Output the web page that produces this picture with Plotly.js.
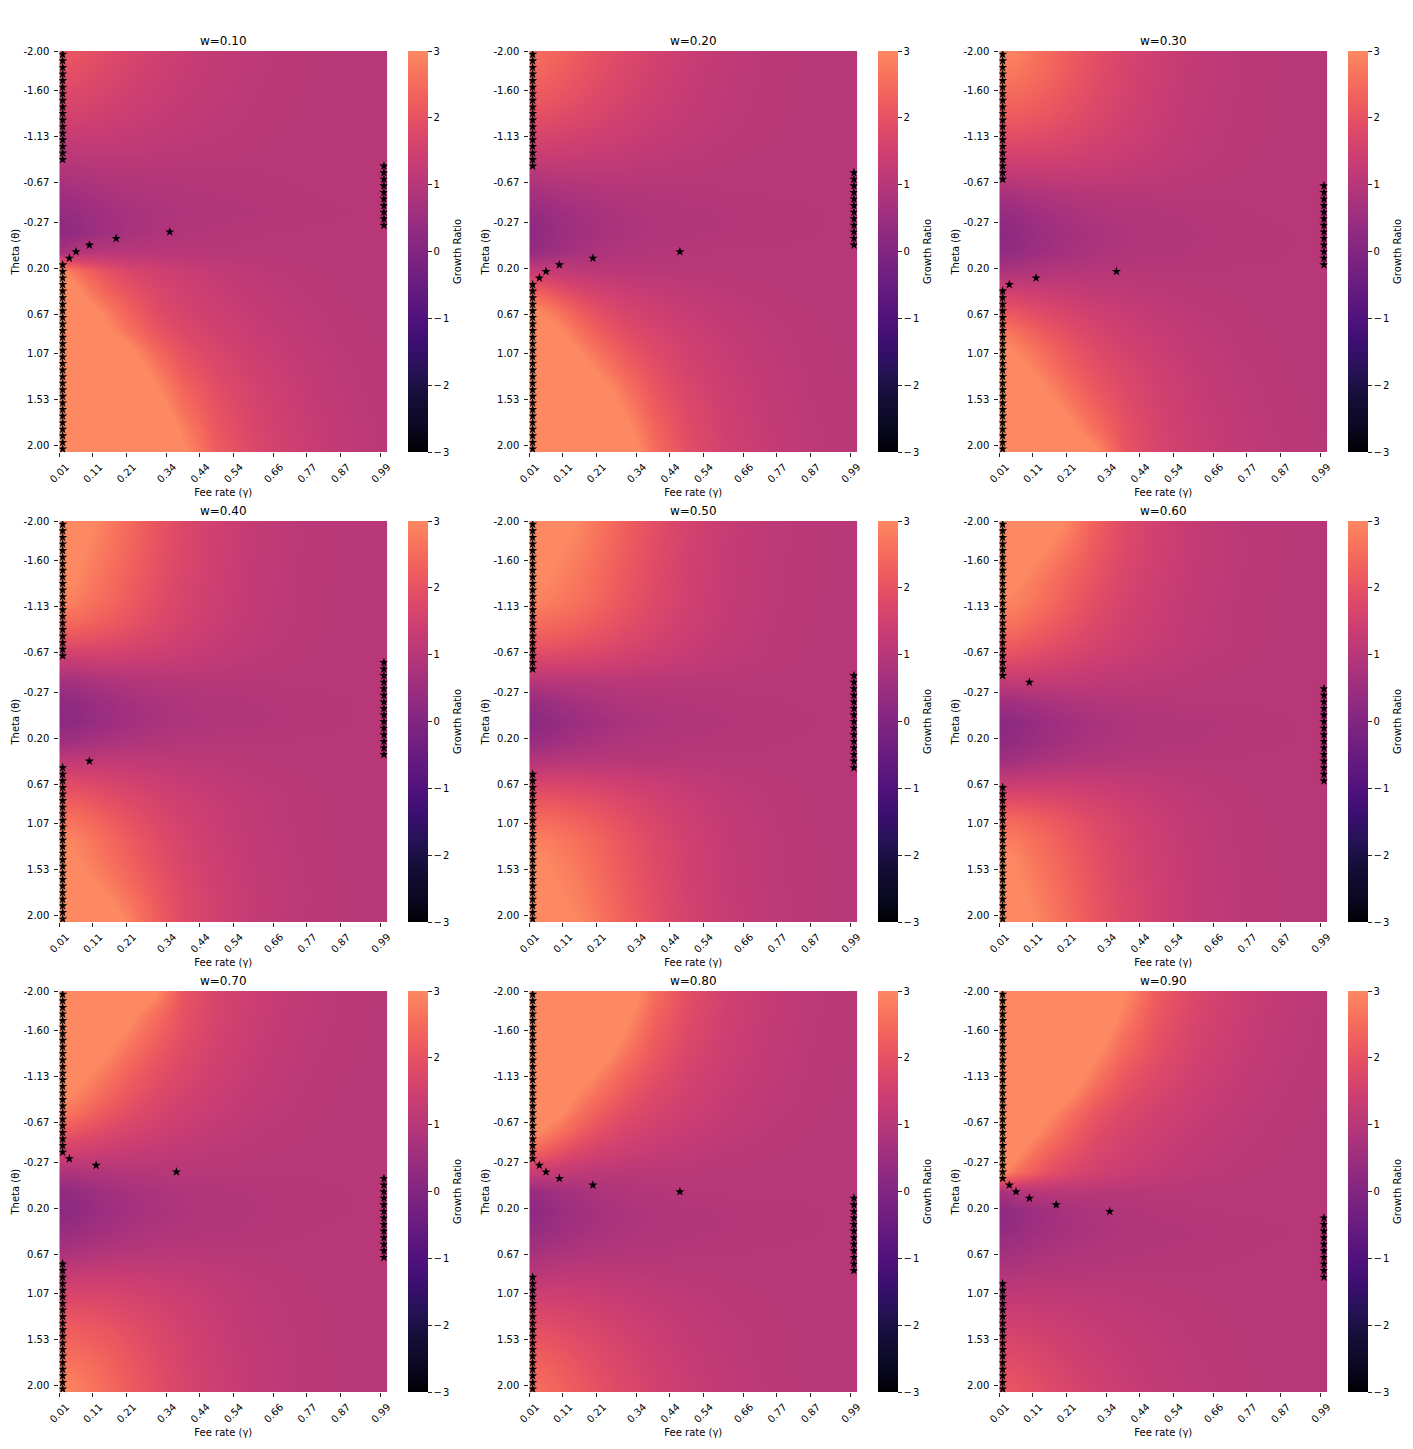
<!DOCTYPE html>
<html><head><meta charset="utf-8">
<script src="https://cdn.plot.ly/plotly-3.0.1.min.js"></script>
<style>html,body{margin:0;padding:0;background:#fff}#chart{width:1413px;height:1449px}</style>
</head><body><div id="chart"></div>
<script>
// ---------- axes / categories ----------
const nGamma = 49, nTheta = 61;
const gammaTickIdx = [0,5,10,16,21,26,32,37,42,48];
const gammaTickLabels = ["0.01","0.11","0.21","0.34","0.44","0.54","0.66","0.77","0.87","0.99"];
const thetaTickIdx = [0,6,13,20,26,33,40,46,53,60];
const thetaTickLabels = ["-2.00","-1.60","-1.13","-0.67","-0.27","0.20","0.67","1.07","1.53","2.00"];
const cbarTickVals = [-3,-2,-1,0,1,2,3];
const cbarTickLabels = ["\u2212\u200a3","\u2212\u200a2","\u2212\u200a1","0","1","2","3"];
// sampled grid (cell indices) at which growth-ratio values were read
const gammaSampleIdx = [0,2,4,7,10,14,18,23,29,36,42,48];
const thetaSampleIdx = [0,3,6,9,12,15,18,21,24,27,30,33,36,39,42,45,48,51,54,57,60];
const wLabels = ["w=0.10","w=0.20","w=0.30","w=0.40","w=0.50","w=0.60","w=0.70","w=0.80","w=0.90"];

// ---------- growth ratio values (rows = theta samples, cols = gamma samples) ----------
const growth_w010 = [
[2.1,2.05,1.95,1.8,1.65,1.5,1.35,1.22,1.12,1.05,1.02,1.0],
[1.95,1.9,1.82,1.7,1.57,1.43,1.3,1.2,1.1,1.04,1.01,1.0],
[1.78,1.74,1.68,1.58,1.48,1.36,1.26,1.17,1.09,1.03,1.01,1.0],
[1.58,1.56,1.52,1.45,1.38,1.29,1.21,1.14,1.07,1.03,1.01,1.0],
[1.35,1.35,1.33,1.3,1.26,1.2,1.15,1.1,1.05,1.02,1.0,1.0],
[1.1,1.12,1.13,1.13,1.12,1.1,1.08,1.06,1.03,1.01,1.0,1.0],
[0.85,0.88,0.92,0.95,0.97,0.98,0.99,0.99,0.99,1.0,1.0,1.0],
[0.6,0.65,0.72,0.79,0.85,0.9,0.93,0.96,0.98,0.99,1.0,1.0],
[0.35,0.43,0.53,0.64,0.73,0.81,0.87,0.92,0.95,0.98,0.99,1.0],
[0.25,0.35,0.48,0.62,0.73,0.84,0.92,0.97,0.99,1.0,1.0,1.0],
[0.7,0.95,1.0,1.02,1.03,1.03,1.02,1.01,1.0,1.0,1.0,1.0],
[3.0,2.6,2.3,1.95,1.72,1.5,1.36,1.24,1.13,1.05,1.02,1.0],
[3.5,3.15,2.75,2.3,2.0,1.7,1.5,1.33,1.19,1.08,1.03,1.0],
[3.9,3.6,3.2,2.75,2.3,1.85,1.6,1.42,1.25,1.12,1.05,1.01],
[4.3,4.0,3.6,3.05,2.6,2.05,1.75,1.52,1.31,1.15,1.07,1.02],
[5.0,4.8,4.4,3.8,3.1,2.4,1.95,1.65,1.4,1.2,1.09,1.03],
[5.0,5.0,4.8,4.2,3.5,2.75,2.15,1.78,1.47,1.24,1.11,1.04],
[5.0,5.0,5.0,4.6,3.9,3.05,2.4,1.9,1.55,1.28,1.13,1.05],
[5.0,5.0,5.0,5.0,4.3,3.35,2.6,2.0,1.6,1.32,1.15,1.06],
[5.0,5.0,5.0,5.0,4.7,3.7,2.85,2.1,1.65,1.35,1.17,1.07],
[5.0,5.0,5.0,5.0,5.0,4.0,3.05,2.2,1.7,1.38,1.18,1.08]];
const growth_w020 = [
[2.55,2.45,2.35,2.15,1.95,1.75,1.55,1.35,1.18,1.07,1.02,1.0],
[2.4,2.32,2.22,2.05,1.88,1.68,1.5,1.32,1.16,1.06,1.02,1.0],
[2.2,2.14,2.06,1.92,1.78,1.6,1.44,1.28,1.14,1.05,1.02,1.0],
[1.95,1.92,1.86,1.76,1.65,1.5,1.37,1.24,1.12,1.05,1.01,1.0],
[1.68,1.66,1.63,1.56,1.48,1.38,1.28,1.18,1.1,1.04,1.01,1.0],
[1.38,1.38,1.37,1.34,1.3,1.24,1.18,1.12,1.06,1.02,1.0,1.0],
[1.02,1.05,1.08,1.09,1.1,1.08,1.06,1.04,1.02,1.01,1.0,1.0],
[0.68,0.73,0.79,0.85,0.9,0.94,0.96,0.98,0.99,1.0,1.0,1.0],
[0.38,0.46,0.56,0.66,0.75,0.83,0.89,0.93,0.96,0.98,0.99,1.0],
[0.25,0.35,0.47,0.6,0.71,0.81,0.88,0.93,0.96,0.98,0.99,1.0],
[0.4,0.5,0.6,0.72,0.82,0.9,0.95,0.99,1.01,1.0,1.0,1.0],
[1.3,1.3,1.25,1.15,1.1,1.06,1.05,1.04,1.02,1.01,1.0,1.0],
[2.3,2.15,1.95,1.7,1.52,1.37,1.27,1.18,1.1,1.04,1.01,1.0],
[3.05,2.85,2.6,2.2,1.9,1.62,1.45,1.3,1.18,1.08,1.03,1.0],
[3.5,3.3,3.05,2.6,2.2,1.85,1.63,1.42,1.25,1.11,1.05,1.01],
[4.0,3.8,3.45,2.95,2.55,2.1,1.78,1.52,1.3,1.14,1.06,1.02],
[4.4,4.2,3.9,3.35,2.9,2.35,1.95,1.6,1.35,1.17,1.07,1.02],
[5.0,4.8,4.4,3.8,3.3,2.65,2.1,1.7,1.4,1.19,1.08,1.03],
[5.0,5.0,4.8,4.2,3.6,2.9,2.25,1.78,1.44,1.21,1.09,1.03],
[5.0,5.0,5.0,4.6,3.9,3.15,2.4,1.85,1.48,1.23,1.1,1.04],
[5.0,5.0,5.0,5.0,4.3,3.4,2.55,1.92,1.5,1.25,1.11,1.04]];
const growth_w030 = [
[2.95,2.85,2.7,2.45,2.2,1.9,1.65,1.42,1.2,1.08,1.03,1.0],
[2.75,2.68,2.57,2.36,2.14,1.86,1.62,1.4,1.19,1.08,1.03,1.0],
[2.5,2.45,2.37,2.22,2.04,1.8,1.58,1.37,1.18,1.07,1.02,1.0],
[2.25,2.22,2.17,2.06,1.92,1.72,1.53,1.34,1.16,1.07,1.02,1.0],
[1.95,1.94,1.91,1.84,1.74,1.6,1.45,1.3,1.14,1.06,1.02,1.0],
[1.6,1.61,1.61,1.58,1.53,1.45,1.35,1.24,1.12,1.05,1.01,1.0],
[1.2,1.23,1.26,1.28,1.28,1.25,1.21,1.15,1.08,1.03,1.01,1.0],
[0.75,0.8,0.87,0.93,0.98,1.02,1.03,1.02,1.01,1.0,1.0,1.0],
[0.4,0.47,0.57,0.68,0.77,0.85,0.9,0.94,0.97,0.99,1.0,1.0],
[0.2,0.28,0.4,0.54,0.66,0.77,0.85,0.91,0.95,0.98,0.99,1.0],
[0.3,0.37,0.48,0.6,0.7,0.8,0.87,0.92,0.96,0.98,0.99,1.0],
[0.8,0.84,0.88,0.92,0.96,1.0,1.02,1.01,1.0,1.0,1.0,1.0],
[1.5,1.47,1.42,1.35,1.28,1.2,1.15,1.1,1.05,1.02,1.0,1.0],
[2.1,2.02,1.9,1.74,1.6,1.44,1.32,1.2,1.1,1.04,1.01,1.0],
[2.7,2.55,2.35,2.08,1.86,1.62,1.45,1.3,1.16,1.06,1.02,1.0],
[3.1,2.95,2.72,2.4,2.1,1.8,1.57,1.38,1.2,1.08,1.03,1.0],
[3.5,3.3,3.0,2.65,2.3,1.95,1.7,1.46,1.25,1.1,1.04,1.01],
[3.9,3.7,3.35,2.95,2.55,2.12,1.8,1.52,1.29,1.12,1.05,1.01],
[4.4,4.2,3.8,3.25,2.85,2.32,1.9,1.58,1.32,1.14,1.06,1.02],
[4.8,4.6,4.2,3.6,3.15,2.55,1.98,1.62,1.35,1.16,1.07,1.02],
[5.0,5.0,4.7,4.1,3.6,3.0,2.05,1.65,1.38,1.18,1.08,1.03]];
const growth_w040 = [
[3.6,3.4,3.05,2.75,2.45,2.05,1.75,1.48,1.22,1.08,1.03,1.0],
[3.4,3.2,2.95,2.68,2.4,2.02,1.73,1.47,1.22,1.08,1.03,1.0],
[3.2,3.05,2.85,2.6,2.34,1.98,1.7,1.45,1.21,1.08,1.03,1.0],
[3.05,2.95,2.75,2.5,2.26,1.93,1.66,1.43,1.2,1.07,1.02,1.0],
[2.85,2.78,2.62,2.4,2.17,1.87,1.62,1.4,1.19,1.07,1.02,1.0],
[2.45,2.42,2.33,2.18,2.0,1.76,1.56,1.36,1.17,1.06,1.02,1.0],
[1.9,1.9,1.86,1.79,1.7,1.56,1.43,1.28,1.14,1.05,1.01,1.0],
[1.25,1.28,1.31,1.33,1.33,1.29,1.24,1.16,1.08,1.03,1.0,1.0],
[0.6,0.66,0.74,0.83,0.9,0.96,0.99,1.0,1.0,1.0,1.0,1.0],
[0.25,0.32,0.43,0.56,0.67,0.78,0.85,0.91,0.95,0.98,0.99,1.0],
[0.2,0.27,0.38,0.51,0.63,0.75,0.83,0.9,0.94,0.97,0.99,1.0],
[0.55,0.6,0.67,0.76,0.84,0.91,0.96,0.99,1.0,1.0,1.0,1.0],
[1.2,1.22,1.23,1.22,1.2,1.16,1.12,1.08,1.04,1.01,1.0,1.0],
[1.8,1.78,1.72,1.62,1.52,1.4,1.3,1.2,1.1,1.04,1.01,1.0],
[2.25,2.2,2.1,1.95,1.8,1.6,1.45,1.3,1.16,1.06,1.02,1.0],
[2.65,2.58,2.45,2.22,2.0,1.74,1.52,1.34,1.17,1.06,1.02,1.0],
[2.95,2.87,2.72,2.45,2.18,1.86,1.6,1.38,1.19,1.07,1.02,1.0],
[3.15,3.0,2.85,2.58,2.3,1.95,1.66,1.42,1.21,1.08,1.03,1.0],
[3.5,3.35,3.02,2.75,2.45,2.05,1.72,1.46,1.23,1.09,1.03,1.01],
[3.9,3.7,3.4,3.0,2.65,2.15,1.78,1.5,1.25,1.1,1.04,1.01],
[4.3,4.1,3.7,3.3,2.85,2.25,1.8,1.5,1.23,1.08,1.03,1.01]];
const growth_w050 = [
[3.5,3.3,3.15,2.95,2.65,2.25,1.92,1.58,1.3,1.12,1.05,1.01],
[3.3,3.2,3.05,2.85,2.58,2.2,1.89,1.56,1.29,1.12,1.04,1.01],
[3.15,3.08,2.95,2.76,2.5,2.15,1.85,1.54,1.28,1.11,1.04,1.01],
[3.02,2.97,2.85,2.67,2.43,2.1,1.82,1.52,1.27,1.11,1.04,1.01],
[2.85,2.82,2.72,2.56,2.35,2.04,1.78,1.5,1.26,1.1,1.04,1.0],
[2.5,2.48,2.42,2.3,2.14,1.9,1.68,1.44,1.23,1.09,1.03,1.0],
[2.1,2.1,2.06,1.98,1.87,1.7,1.54,1.36,1.19,1.08,1.03,1.0],
[1.6,1.61,1.6,1.57,1.52,1.43,1.34,1.24,1.13,1.06,1.02,1.0],
[0.95,0.98,1.0,1.02,1.03,1.03,1.03,1.02,1.01,1.0,1.0,1.0],
[0.42,0.48,0.58,0.7,0.79,0.87,0.92,0.96,0.98,0.99,1.0,1.0],
[0.18,0.25,0.36,0.5,0.62,0.74,0.83,0.9,0.95,0.98,0.99,1.0],
[0.42,0.48,0.58,0.7,0.79,0.87,0.92,0.96,0.98,0.99,1.0,1.0],
[0.95,0.98,1.0,1.02,1.03,1.03,1.03,1.02,1.01,1.0,1.0,1.0],
[1.6,1.61,1.6,1.57,1.52,1.43,1.34,1.24,1.13,1.06,1.02,1.0],
[2.1,2.1,2.06,1.98,1.87,1.7,1.54,1.36,1.19,1.08,1.03,1.0],
[2.5,2.48,2.42,2.3,2.14,1.9,1.68,1.44,1.23,1.09,1.03,1.0],
[2.85,2.82,2.72,2.56,2.35,2.04,1.78,1.5,1.26,1.1,1.04,1.0],
[3.02,2.97,2.85,2.67,2.43,2.1,1.82,1.52,1.27,1.11,1.04,1.01],
[3.15,3.08,2.95,2.76,2.5,2.15,1.85,1.54,1.28,1.11,1.04,1.01],
[3.3,3.2,3.05,2.85,2.58,2.2,1.89,1.56,1.29,1.12,1.04,1.01],
[3.5,3.3,3.15,2.95,2.65,2.25,1.92,1.58,1.3,1.12,1.05,1.01]];
const growth_w060 = [
[4.3,4.1,3.7,3.3,2.85,2.25,1.8,1.5,1.23,1.08,1.03,1.01],
[3.9,3.7,3.4,3.0,2.65,2.15,1.78,1.5,1.25,1.1,1.04,1.01],
[3.5,3.35,3.02,2.75,2.45,2.05,1.72,1.46,1.23,1.09,1.03,1.01],
[3.15,3.0,2.85,2.58,2.3,1.95,1.66,1.42,1.21,1.08,1.03,1.0],
[2.95,2.87,2.72,2.45,2.18,1.86,1.6,1.38,1.19,1.07,1.02,1.0],
[2.65,2.58,2.45,2.22,2.0,1.74,1.52,1.34,1.17,1.06,1.02,1.0],
[2.25,2.2,2.1,1.95,1.8,1.6,1.45,1.3,1.16,1.06,1.02,1.0],
[1.8,1.78,1.72,1.62,1.52,1.4,1.3,1.2,1.1,1.04,1.01,1.0],
[1.2,1.22,1.23,1.22,1.2,1.16,1.12,1.08,1.04,1.01,1.0,1.0],
[0.55,0.6,0.67,0.76,0.84,0.91,0.96,0.99,1.0,1.0,1.0,1.0],
[0.2,0.27,0.38,0.51,0.63,0.75,0.83,0.9,0.94,0.97,0.99,1.0],
[0.25,0.32,0.43,0.56,0.67,0.78,0.85,0.91,0.95,0.98,0.99,1.0],
[0.6,0.66,0.74,0.83,0.9,0.96,0.99,1.0,1.0,1.0,1.0,1.0],
[1.25,1.28,1.31,1.33,1.33,1.29,1.24,1.16,1.08,1.03,1.0,1.0],
[1.9,1.9,1.86,1.79,1.7,1.56,1.43,1.28,1.14,1.05,1.01,1.0],
[2.45,2.42,2.33,2.18,2.0,1.76,1.56,1.36,1.17,1.06,1.02,1.0],
[2.85,2.78,2.62,2.4,2.17,1.87,1.62,1.4,1.19,1.07,1.02,1.0],
[3.05,2.95,2.75,2.5,2.26,1.93,1.66,1.43,1.2,1.07,1.02,1.0],
[3.2,3.05,2.85,2.6,2.34,1.98,1.7,1.45,1.21,1.08,1.03,1.0],
[3.4,3.2,2.95,2.68,2.4,2.02,1.73,1.47,1.22,1.08,1.03,1.0],
[3.6,3.4,3.05,2.75,2.45,2.05,1.75,1.48,1.22,1.08,1.03,1.0]];
const growth_w070 = [
[5.0,5.0,4.7,4.1,3.6,3.0,2.05,1.65,1.38,1.18,1.08,1.03],
[4.8,4.6,4.2,3.6,3.15,2.55,1.98,1.62,1.35,1.16,1.07,1.02],
[4.4,4.2,3.8,3.25,2.85,2.32,1.9,1.58,1.32,1.14,1.06,1.02],
[3.9,3.7,3.35,2.95,2.55,2.12,1.8,1.52,1.29,1.12,1.05,1.01],
[3.5,3.3,3.0,2.65,2.3,1.95,1.7,1.46,1.25,1.1,1.04,1.01],
[3.1,2.95,2.72,2.4,2.1,1.8,1.57,1.38,1.2,1.08,1.03,1.0],
[2.7,2.55,2.35,2.08,1.86,1.62,1.45,1.3,1.16,1.06,1.02,1.0],
[2.1,2.02,1.9,1.74,1.6,1.44,1.32,1.2,1.1,1.04,1.01,1.0],
[1.5,1.47,1.42,1.35,1.28,1.2,1.15,1.1,1.05,1.02,1.0,1.0],
[0.8,0.84,0.88,0.92,0.96,1.0,1.02,1.01,1.0,1.0,1.0,1.0],
[0.3,0.37,0.48,0.6,0.7,0.8,0.87,0.92,0.96,0.98,0.99,1.0],
[0.2,0.28,0.4,0.54,0.66,0.77,0.85,0.91,0.95,0.98,0.99,1.0],
[0.4,0.47,0.57,0.68,0.77,0.85,0.9,0.94,0.97,0.99,1.0,1.0],
[0.75,0.8,0.87,0.93,0.98,1.02,1.03,1.02,1.01,1.0,1.0,1.0],
[1.2,1.23,1.26,1.28,1.28,1.25,1.21,1.15,1.08,1.03,1.01,1.0],
[1.6,1.61,1.61,1.58,1.53,1.45,1.35,1.24,1.12,1.05,1.01,1.0],
[1.95,1.94,1.91,1.84,1.74,1.6,1.45,1.3,1.14,1.06,1.02,1.0],
[2.25,2.22,2.17,2.06,1.92,1.72,1.53,1.34,1.16,1.07,1.02,1.0],
[2.5,2.45,2.37,2.22,2.04,1.8,1.58,1.37,1.18,1.07,1.02,1.0],
[2.75,2.68,2.57,2.36,2.14,1.86,1.62,1.4,1.19,1.08,1.03,1.0],
[2.95,2.85,2.7,2.45,2.2,1.9,1.65,1.42,1.2,1.08,1.03,1.0]];
const growth_w080 = [
[5.0,5.0,5.0,5.0,4.3,3.4,2.55,1.92,1.5,1.25,1.11,1.04],
[5.0,5.0,5.0,4.6,3.9,3.15,2.4,1.85,1.48,1.23,1.1,1.04],
[5.0,5.0,4.8,4.2,3.6,2.9,2.25,1.78,1.44,1.21,1.09,1.03],
[5.0,4.8,4.4,3.8,3.3,2.65,2.1,1.7,1.4,1.19,1.08,1.03],
[4.4,4.2,3.9,3.35,2.9,2.35,1.95,1.6,1.35,1.17,1.07,1.02],
[4.0,3.8,3.45,2.95,2.55,2.1,1.78,1.52,1.3,1.14,1.06,1.02],
[3.5,3.3,3.05,2.6,2.2,1.85,1.63,1.42,1.25,1.11,1.05,1.01],
[3.05,2.85,2.6,2.2,1.9,1.62,1.45,1.3,1.18,1.08,1.03,1.0],
[2.3,2.15,1.95,1.7,1.52,1.37,1.27,1.18,1.1,1.04,1.01,1.0],
[1.3,1.3,1.25,1.15,1.1,1.06,1.05,1.04,1.02,1.01,1.0,1.0],
[0.4,0.5,0.6,0.72,0.82,0.9,0.95,0.99,1.01,1.0,1.0,1.0],
[0.25,0.35,0.47,0.6,0.71,0.81,0.88,0.93,0.96,0.98,0.99,1.0],
[0.38,0.46,0.56,0.66,0.75,0.83,0.89,0.93,0.96,0.98,0.99,1.0],
[0.68,0.73,0.79,0.85,0.9,0.94,0.96,0.98,0.99,1.0,1.0,1.0],
[1.02,1.05,1.08,1.09,1.1,1.08,1.06,1.04,1.02,1.01,1.0,1.0],
[1.38,1.38,1.37,1.34,1.3,1.24,1.18,1.12,1.06,1.02,1.0,1.0],
[1.68,1.66,1.63,1.56,1.48,1.38,1.28,1.18,1.1,1.04,1.01,1.0],
[1.95,1.92,1.86,1.76,1.65,1.5,1.37,1.24,1.12,1.05,1.01,1.0],
[2.2,2.14,2.06,1.92,1.78,1.6,1.44,1.28,1.14,1.05,1.02,1.0],
[2.4,2.32,2.22,2.05,1.88,1.68,1.5,1.32,1.16,1.06,1.02,1.0],
[2.55,2.45,2.35,2.15,1.95,1.75,1.55,1.35,1.18,1.07,1.02,1.0]];
const growth_w090 = [
[5.0,5.0,5.0,5.0,5.0,4.0,3.05,2.2,1.7,1.38,1.18,1.08],
[5.0,5.0,5.0,5.0,4.7,3.7,2.85,2.1,1.65,1.35,1.17,1.07],
[5.0,5.0,5.0,5.0,4.3,3.35,2.6,2.0,1.6,1.32,1.15,1.06],
[5.0,5.0,5.0,4.6,3.9,3.05,2.4,1.9,1.55,1.28,1.13,1.05],
[5.0,5.0,4.8,4.2,3.5,2.75,2.15,1.78,1.47,1.24,1.11,1.04],
[5.0,4.8,4.4,3.8,3.1,2.4,1.95,1.65,1.4,1.2,1.09,1.03],
[4.3,4.0,3.6,3.05,2.6,2.05,1.75,1.52,1.31,1.15,1.07,1.02],
[3.9,3.6,3.2,2.75,2.3,1.85,1.6,1.42,1.25,1.12,1.05,1.01],
[3.5,3.15,2.75,2.3,2.0,1.7,1.5,1.33,1.19,1.08,1.03,1.0],
[3.0,2.6,2.3,1.95,1.72,1.5,1.36,1.24,1.13,1.05,1.02,1.0],
[0.7,0.95,1.0,1.02,1.03,1.03,1.02,1.01,1.0,1.0,1.0,1.0],
[0.25,0.35,0.48,0.62,0.73,0.84,0.92,0.97,0.99,1.0,1.0,1.0],
[0.35,0.43,0.53,0.64,0.73,0.81,0.87,0.92,0.95,0.98,0.99,1.0],
[0.6,0.65,0.72,0.79,0.85,0.9,0.93,0.96,0.98,0.99,1.0,1.0],
[0.85,0.88,0.92,0.95,0.97,0.98,0.99,0.99,0.99,1.0,1.0,1.0],
[1.1,1.12,1.13,1.13,1.12,1.1,1.08,1.06,1.03,1.01,1.0,1.0],
[1.35,1.35,1.33,1.3,1.26,1.2,1.15,1.1,1.05,1.02,1.0,1.0],
[1.58,1.56,1.52,1.45,1.38,1.29,1.21,1.14,1.07,1.03,1.01,1.0],
[1.78,1.74,1.68,1.58,1.48,1.36,1.26,1.17,1.09,1.03,1.01,1.0],
[1.95,1.9,1.82,1.7,1.57,1.43,1.3,1.2,1.1,1.04,1.01,1.0],
[2.1,2.05,1.95,1.8,1.65,1.5,1.35,1.22,1.12,1.05,1.02,1.0]];

// ---------- starred gamma index (per theta row, 61 rows) ----------
const star_w010 = [0,0,0,0,0,0,0,0,0,0,0,0,0,0,0,0,0,48,48,48,48,48,48,48,48,48,48,16,8,4,2,1,0,0,0,0,0,0,0,0,0,0,0,0,0,0,0,0,0,0,0,0,0,0,0,0,0,0,0,0,0];
const star_w020 = [0,0,0,0,0,0,0,0,0,0,0,0,0,0,0,0,0,0,48,48,48,48,48,48,48,48,48,48,48,48,22,9,4,2,1,0,0,0,0,0,0,0,0,0,0,0,0,0,0,0,0,0,0,0,0,0,0,0,0,0,0];
const star_w030 = [0,0,0,0,0,0,0,0,0,0,0,0,0,0,0,0,0,0,0,0,48,48,48,48,48,48,48,48,48,48,48,48,48,17,5,1,0,0,0,0,0,0,0,0,0,0,0,0,0,0,0,0,0,0,0,0,0,0,0,0,0];
const star_w040 = [0,0,0,0,0,0,0,0,0,0,0,0,0,0,0,0,0,0,0,0,0,48,48,48,48,48,48,48,48,48,48,48,48,48,48,48,4,0,0,0,0,0,0,0,0,0,0,0,0,0,0,0,0,0,0,0,0,0,0,0,0];
const star_w050 = [0,0,0,0,0,0,0,0,0,0,0,0,0,0,0,0,0,0,0,0,0,0,0,48,48,48,48,48,48,48,48,48,48,48,48,48,48,48,0,0,0,0,0,0,0,0,0,0,0,0,0,0,0,0,0,0,0,0,0,0,0];
const star_w060 = [0,0,0,0,0,0,0,0,0,0,0,0,0,0,0,0,0,0,0,0,0,0,0,0,4,48,48,48,48,48,48,48,48,48,48,48,48,48,48,48,0,0,0,0,0,0,0,0,0,0,0,0,0,0,0,0,0,0,0,0,0];
const star_w070 = [0,0,0,0,0,0,0,0,0,0,0,0,0,0,0,0,0,0,0,0,0,0,0,0,0,1,5,17,48,48,48,48,48,48,48,48,48,48,48,48,48,0,0,0,0,0,0,0,0,0,0,0,0,0,0,0,0,0,0,0,0];
const star_w080 = [0,0,0,0,0,0,0,0,0,0,0,0,0,0,0,0,0,0,0,0,0,0,0,0,0,0,1,2,4,9,22,48,48,48,48,48,48,48,48,48,48,48,48,0,0,0,0,0,0,0,0,0,0,0,0,0,0,0,0,0,0];
const star_w090 = [0,0,0,0,0,0,0,0,0,0,0,0,0,0,0,0,0,0,0,0,0,0,0,0,0,0,0,0,0,1,2,4,8,16,48,48,48,48,48,48,48,48,48,48,0,0,0,0,0,0,0,0,0,0,0,0,0,0,0,0,0];

// ---------- styling ----------
// magma colormap re-centred on 1 (range -3..3 shows magma 0..0.75)
const magmaCentered = [
[0,"#000004"],[0.0667,"#0b0924"],[0.1333,"#140e36"],[0.2,"#251255"],[0.2667,"#3b0f70"],
[0.3333,"#51127c"],[0.4,"#641a80"],[0.4667,"#782281"],[0.5333,"#8c2981"],[0.6,"#a1307e"],
[0.6667,"#b73779"],[0.7333,"#cb3e72"],[0.8,"#de4968"],[0.8667,"#ee5b5e"],[0.9333,"#f7705c"],[1,"#fc8961"]];

const W = 1413, H = 1449;
const X0 = [59.3, 529.3, 999.3], PW = 328;
const Y0 = [51, 521, 991], PH = 401.3;
const FONT = "DejaVu Sans, Verdana, sans-serif";

const panels = [
  {z: growth_w010, s: star_w010}, {z: growth_w020, s: star_w020}, {z: growth_w030, s: star_w030},
  {z: growth_w040, s: star_w040}, {z: growth_w050, s: star_w050}, {z: growth_w060, s: star_w060},
  {z: growth_w070, s: star_w070}, {z: growth_w080, s: star_w080}, {z: growth_w090, s: star_w090}];

const traces = [];
const layout = {
  width: W, height: H, margin: {l:0, r:0, t:0, b:0},
  paper_bgcolor: "#ffffff", plot_bgcolor: "#ffffff",
  font: {family: FONT, size: 10, color: "#000"},
  showlegend: false, annotations: []
};

panels.forEach((p, k) => {
  const sfx = k === 0 ? "" : String(k + 1);
  const c = k % 3, r = Math.floor(k / 3);
  const xd = [X0[c] / W, (X0[c] + PW) / W];
  const yd = [1 - (Y0[r] + PH) / H, 1 - Y0[r] / H];
  traces.push({
    type: "heatmap",
    x: gammaSampleIdx.map(i => i + 0.5),
    y: thetaSampleIdx.map(j => j + 0.5),
    z: p.z, zmin: -3, zmax: 3, zsmooth: "best",
    colorscale: magmaCentered,
    xaxis: "x" + sfx, yaxis: "y" + sfx, hoverinfo: "skip",
    colorbar: {
      x: (X0[c] + 348.4) / W, xanchor: "left", xpad: 0, ypad: 0,
      y: 1 - (Y0[r] + PH / 2) / H, yanchor: "middle",
      len: PH, lenmode: "pixels", thickness: 20, thicknessmode: "pixels",
      outlinewidth: 0, tickmode: "array", tickvals: cbarTickVals, ticktext: cbarTickLabels,
      tickprefix: "\u00a0", ticks: "outside", ticklen: 4,
      tickwidth: 1, tickcolor: "#222", tickfont: {size: 10, color: "#000"}
    }
  });
  traces.push({
    type: "scatter", mode: "markers",
    x: p.s.map(ci => ci + 0.5),
    y: p.s.map((ci, ri) => ri + 0.5),
    xaxis: "x" + sfx, yaxis: "y" + sfx, hoverinfo: "skip",
    marker: {symbol: "star", size: 7, color: "#000", line: {width: 0}}
  });
  layout["xaxis" + sfx] = {
    domain: xd, anchor: "y" + sfx, range: [0, nGamma], autorange: false,
    tickmode: "array", tickvals: gammaTickIdx, ticktext: gammaTickLabels, tickangle: -45,
    ticklabelshift: 7, ticklabelstandoff: 0,
    ticks: "outside", ticklen: 4, tickwidth: 1, tickcolor: "#222",
    showgrid: false, zeroline: false, showline: false,
    tickfont: {size: 10, color: "#000"},
    title: {text: "Fee rate (γ)", font: {size: 10, color: "#000"}}
  };
  layout["yaxis" + sfx] = {
    domain: yd, anchor: "x" + sfx, range: [nTheta, 0], autorange: false,
    tickmode: "array", tickvals: thetaTickIdx, ticktext: thetaTickLabels,
    ticklabelstandoff: 3,
    ticks: "outside", ticklen: 4, tickwidth: 1, tickcolor: "#222",
    showgrid: false, zeroline: false, showline: false,
    tickfont: {size: 10, color: "#000"},
    title: {text: "Theta (θ)", font: {size: 10, color: "#000"}}
  };
  layout.annotations.push({
    text: wLabels[k], xref: "paper", yref: "paper",
    x: (X0[c] + PW / 2) / W, y: 1 - (Y0[r] - 10) / H,
    xanchor: "center", yanchor: "middle", showarrow: false,
    font: {size: 12, color: "#000"}
  });
  // colour-bar label, placed to the right of the colour-bar tick labels
  layout.annotations.push({
    text: "Growth Ratio", xref: "paper", yref: "paper",
    x: (X0[c] + 398) / W, y: 1 - (Y0[r] + PH / 2) / H,
    xanchor: "center", yanchor: "middle", textangle: -90, showarrow: false,
    font: {size: 10, color: "#000"}
  });
});

Plotly.newPlot("chart", traces, layout, {staticPlot: true});
</script>
</body></html>
